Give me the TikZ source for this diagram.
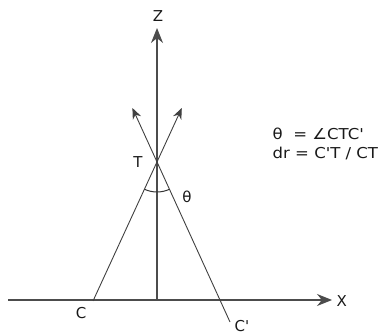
\documentclass[tikz,border=0pt]{standalone}
\usepackage{fontspec}
\usepackage{graphicx}
\setmainfont{DejaVu Sans}[Ligatures=TeXOff]
\usetikzlibrary{arrows.meta}
\begin{document}
\begin{tikzpicture}[x=1pt,y=-1pt,
  axis/.style={draw=black!70, line width=1.3pt, -{Stealth[length=15pt,width=12pt]}},
  ray/.style={draw=black!75, line width=0.9pt, -{Stealth[length=11pt,width=9pt]}},
  lbl/.style={font=\fontsize{15}{17}\selectfont, inner sep=0pt, text=black!90, anchor=base}]
\useasboundingbox (0,0) rectangle (386,334);
\coordinate (O) at (157,300);
\coordinate (Ztip) at (157,28);
\coordinate (Xs) at (8,300);
\coordinate (Xtip) at (332,300);
\coordinate (T) at (157,162);
\coordinate (C) at (93,301);
\coordinate (Cp) at (230,322);
\coordinate (A1) at (181.8,108);
\coordinate (A2) at (132.4,108);
\draw[axis] (O) -- (Ztip);
\draw[axis] (Xs) -- (Xtip);
\draw[ray] (C) -- (A1);
\draw[ray] (Cp) -- (A2);
\draw[black!80, line width=1pt] (T) ++(65.5:30) arc[start angle=65.5, end angle=114.7, radius=30];
\node[lbl] (zl) at (158,21.5) {Z};
\node[lbl] (xl) at (341.7,306.5) {X};
\node[lbl] (tl) at (138,168) {T};
\node[lbl] (thl) at (187,203) {θ};
\node[lbl] (cl) at (81,318) {C};
\node[lbl, anchor=base west] (cpl) at (234.5,331) {C'};
\node[lbl, anchor=base west] (eq1) at (272.5,140) {\scalebox{1.1}[1]{θ\ \ = ∠CTC'}};
\node[lbl, anchor=base west] (eq2) at (272.5,158.3) {\scalebox{1.1}[1]{dr = C'T / CT}};
\end{tikzpicture}
\end{document}
